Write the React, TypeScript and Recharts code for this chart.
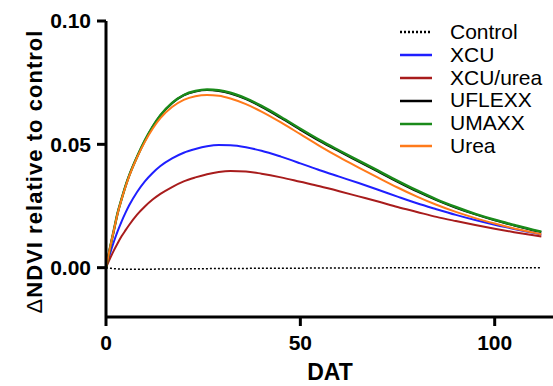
import React from 'react';
import { LineChart, Line, XAxis, YAxis } from 'recharts';

// days after treatment
const DAT = [0, 1, 2, 3, 4, 5, 6, 8, 10, 12, 14, 17, 20, 23, 26, 29, 32, 36, 40, 45, 50, 55, 60, 65, 70, 75, 80, 85, 90, 95, 100, 105, 110, 112];

const CONTROL = [0, -0.0002, -0.0004, -0.0005, -0.0006, -0.0006, -0.0006, -0.0006, -0.0006, -0.0006, -0.0005, -0.0005, -0.0005, -0.0004, -0.0004, -0.0003, -0.0003, -0.0003, -0.0002, -0.0002, -0.0002, -0.0001, -0.0001, -0.0001, -0.0001, 0, 0, 0, 0, 0, 0, 0, 0, 0];
const XCU = [0, 0.0055, 0.0104, 0.0148, 0.0187, 0.0222, 0.0254, 0.0307, 0.035, 0.0384, 0.0412, 0.0443, 0.0466, 0.0481, 0.0492, 0.0497, 0.0496, 0.0488, 0.0474, 0.045, 0.0423, 0.0395, 0.0369, 0.0343, 0.0316, 0.0288, 0.0261, 0.0237, 0.0214, 0.0193, 0.0174, 0.0157, 0.0141, 0.0134];
const XCU_UREA = [0, 0.0036, 0.0069, 0.0099, 0.0127, 0.0151, 0.0174, 0.0215, 0.0248, 0.0276, 0.0299, 0.0327, 0.035, 0.0366, 0.0379, 0.0388, 0.0392, 0.039, 0.0381, 0.0366, 0.0348, 0.033, 0.031, 0.0289, 0.0268, 0.0246, 0.0226, 0.0206, 0.0189, 0.0173, 0.0158, 0.0144, 0.0131, 0.0126];
const UFLEXX = [0, 0.0078, 0.015, 0.0222, 0.0278, 0.033, 0.0375, 0.045, 0.0515, 0.0571, 0.0617, 0.0667, 0.0699, 0.0714, 0.072, 0.0716, 0.0706, 0.0683, 0.0652, 0.0607, 0.0559, 0.0513, 0.0471, 0.043, 0.0389, 0.0348, 0.0309, 0.0274, 0.0243, 0.0216, 0.0192, 0.0171, 0.0151, 0.0144];
const UMAXX = [0, 0.0078, 0.015, 0.0222, 0.0278, 0.033, 0.0375, 0.045, 0.0516, 0.0572, 0.0618, 0.0668, 0.07, 0.0716, 0.0722, 0.0719, 0.0709, 0.0686, 0.0656, 0.0611, 0.0563, 0.0517, 0.0475, 0.0434, 0.0393, 0.0352, 0.0313, 0.0277, 0.0246, 0.0218, 0.0194, 0.0173, 0.0153, 0.0146];
const UREA = [0, 0.0078, 0.015, 0.022, 0.0276, 0.0327, 0.0372, 0.0447, 0.051, 0.0563, 0.0606, 0.0651, 0.068, 0.0695, 0.07, 0.0697, 0.0686, 0.0663, 0.0633, 0.0589, 0.0541, 0.0493, 0.0448, 0.0406, 0.0365, 0.0325, 0.0288, 0.0255, 0.0226, 0.0201, 0.0179, 0.0159, 0.0142, 0.0135];

const X_TICKS = [0, 50, 100];
const Y_TICKS = [0, 0.05, 0.1];

const series = [
  { key: 'Control', values: CONTROL, color: '#000000', width: 1.5, dash: '2 2' },
  { key: 'XCU', values: XCU, color: '#1f1fff', width: 2 },
  { key: 'XCU/urea', values: XCU_UREA, color: '#a81c1c', width: 2 },
  { key: 'UFLEXX', values: UFLEXX, color: '#000000', width: 2 },
  { key: 'UMAXX', values: UMAXX, color: '#1a8a1a', width: 2.5 },
  { key: 'Urea', values: UREA, color: '#ff7a1a', width: 2 },
];

const data = DAT.map((t, i) => {
  const row: Record<string, number> = { t };
  series.forEach((s) => { row[s.key] = s.values[i]; });
  return row;
});

const FONT = '"Liberation Sans", Arial, sans-serif';

const YLabel = () => (
  <text
    x={42}
    y={172}
    transform="rotate(-90, 42, 172)"
    textAnchor="middle"
    fontFamily={FONT}
    fontSize={22}
    fontWeight="bold"
    fill="#000"
    textLength={283}
    lengthAdjust="spacing"
  >
    <tspan fontWeight="normal">Δ</tspan>NDVI relative to control
  </text>
);

const XLabel = () => (
  <text x={330} y={380} textAnchor="middle" fontFamily={FONT} fontSize={23} fontWeight="bold" fill="#000">
    DAT
  </text>
);

export default function App() {
  return (
    <div style={{ position: 'absolute', left: 0, top: 0, width: 553, height: 386, background: '#fff' }}>
      <LineChart width={553} height={386} data={data} margin={{ top: 21, right: 0, bottom: 0, left: 0 }}>
        <XAxis
          dataKey="t"
          type="number"
          domain={[0, 115]}
          ticks={X_TICKS}
          height={69}
          axisLine={{ stroke: '#000', strokeWidth: 3 }}
          tickLine={{ stroke: '#000', strokeWidth: 3 }}
          tickSize={9}
          tickMargin={9}
          tick={{ fill: '#000', fontSize: 21, fontWeight: 'bold', fontFamily: FONT }}
          label={<XLabel />}
        />
        <YAxis
          type="number"
          domain={[-0.02, 0.1]}
          ticks={Y_TICKS}
          width={106}
          tickFormatter={(v: number) => v.toFixed(2)}
          axisLine={{ stroke: '#000', strokeWidth: 3 }}
          tickLine={{ stroke: '#000', strokeWidth: 3 }}
          tickSize={9}
          tickMargin={6}
          tick={{ fill: '#000', fontSize: 21, fontWeight: 'bold', fontFamily: FONT }}
          label={<YLabel />}
        />
        {series.map((s) => (
          <Line
            key={s.key}
            dataKey={s.key}
            type="monotone"
            stroke={s.color}
            strokeWidth={s.width}
            strokeDasharray={s.dash}
            dot={false}
            activeDot={false}
            isAnimationActive={false}
          />
        ))}
      </LineChart>
      <div style={{ position: 'absolute', left: 400, top: 21, fontFamily: FONT, fontSize: 21 }}>
        {series.map((s) => (
          <div key={s.key} style={{ display: 'flex', alignItems: 'center', height: 22.8 }}>
            <svg width={32} height={4} style={{ marginRight: 18 }}>
              <line x1={0} y1={2} x2={32} y2={2} stroke={s.color} strokeWidth={2.5} strokeDasharray={s.dash ? '2 2' : undefined} />
            </svg>
            <span style={{ lineHeight: '22.8px' }}>{s.key}</span>
          </div>
        ))}
      </div>
    </div>
  );
}
